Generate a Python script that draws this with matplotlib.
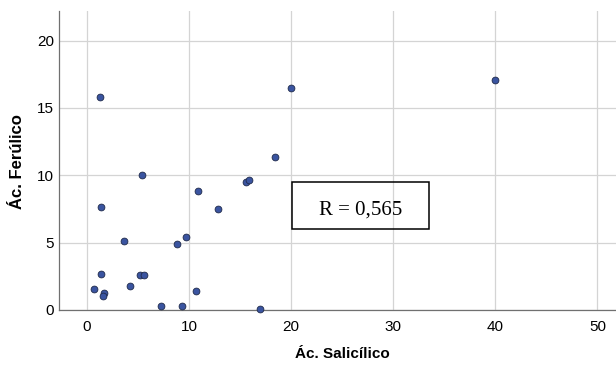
import matplotlib
matplotlib.use("Agg")
import matplotlib.pyplot as plt
from matplotlib.patches import Rectangle

# Salicylic vs. ferulic acid concentrations
salicilico = [1.24, 20.0, 18.4, 5.37, 15.6, 15.9, 10.9, 1.41, 12.8, 3.66, 9.72, 8.83,
              1.41, 5.23, 5.56, 0.65, 4.25, 1.63, 1.54, 10.67, 7.23, 9.32, 17.0, 40.0]
ferulico = [15.79, 16.5, 11.36, 10.02, 9.53, 9.63, 8.86, 7.65, 7.52, 5.15, 5.40, 4.87,
            2.67, 2.60, 2.62, 1.56, 1.78, 1.29, 1.04, 1.41, 0.32, 0.27, 0.07, 17.07]
x_ticks = [0, 10, 20, 30, 40, 50]
y_ticks = [0, 5, 10, 15, 20]
r_label = "R = 0,565"

plt.rcParams['font.family'] = ['Liberation Sans', 'DejaVu Sans']

fig = plt.figure(figsize=(6.16, 3.65), dpi=100)
ax = fig.add_axes([0.0963, 0.1507, 0.905, 0.8192])

ax.set_xlim(-2.7, 51.9)
ax.set_ylim(0, 22.2)
ax.set_xticks(x_ticks)
ax.set_yticks(y_ticks)
ax.grid(True, color='#d4d4d4', linewidth=0.9)
ax.set_axisbelow(True)
ax.tick_params(length=0, labelsize=11, colors='#000000')
ax.tick_params(axis='x', pad=7)
ax.tick_params(axis='y', pad=3.6)

for side in ('top', 'right'):
    ax.spines[side].set_visible(False)
for side in ('left', 'bottom'):
    ax.spines[side].set_color('#707070')
    ax.spines[side].set_linewidth(0.9)

ax.scatter(salicilico, ferulico, s=24, color='#3a54a0', edgecolors='#1f2a4a',
           linewidths=0.6, zorder=3, clip_on=False)

# Correlation annotation box
ax.add_patch(Rectangle((20.1, 6.04), 13.4, 3.44, fill=False, edgecolor='black',
                       linewidth=1.1, zorder=4))
ax.text(26.8, 7.1, r_label, ha='center', va='baseline', fontsize=15,
        family=['Liberation Serif', 'DejaVu Serif'], zorder=5)

fig.text(342 / 616, 1 - 354 / 365, "Ác. Salicílico", ha='center', va='center',
         fontsize=11, fontweight='bold')
fig.text(17.5 / 616, 1 - 162 / 365, "Ác. Ferúlico", ha='center', va='center',
         rotation=90, fontsize=12, fontweight='bold')

fig.savefig("out.png", dpi=100)
